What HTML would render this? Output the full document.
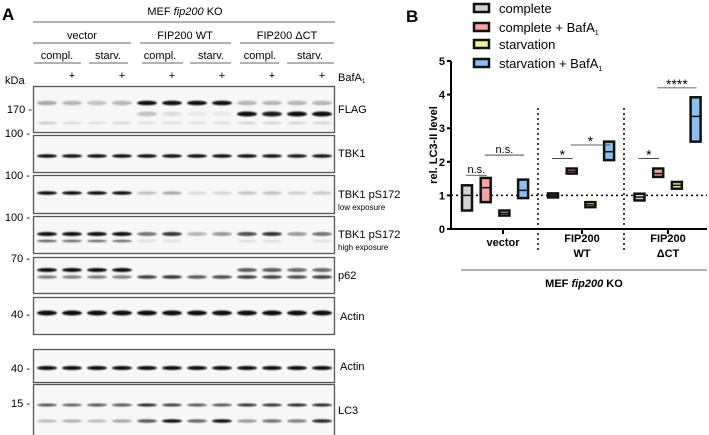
<!DOCTYPE html>
<html><head><meta charset="utf-8">
<style>
body{margin:0;background:#fff;}
svg{display:block;font-family:"Liberation Sans",Arial,sans-serif;}
</style></head>
<body>
<svg id="fig" width="709" height="435" viewBox="0 0 709 435">
<defs>
<filter id="blur" x="-20%" y="-100%" width="140%" height="300%"><feGaussianBlur stdDeviation="0.8"/></filter>
</defs>
<g id="panelA">
<text x="2" y="20" font-size="17" font-weight="bold">A</text>
<text x="185" y="15" font-size="11" text-anchor="middle">MEF <tspan font-style="italic">fip200</tspan> KO</text>
<line x1="33" y1="22" x2="335" y2="22" stroke="#333" stroke-width="0.8"/>
<text x="82" y="39" font-size="11" text-anchor="middle">vector</text>
<text x="185" y="39" font-size="11" text-anchor="middle">FIP200 WT</text>
<text x="287" y="39" font-size="11" text-anchor="middle">FIP200 ΔCT</text>
<line x1="33" y1="43" x2="131" y2="43" stroke="#333" stroke-width="0.8"/>
<line x1="140" y1="43" x2="231" y2="43" stroke="#333" stroke-width="0.8"/>
<line x1="240" y1="43" x2="334" y2="43" stroke="#333" stroke-width="0.8"/>
<g font-size="11" text-anchor="middle">
<text x="57" y="59">compl.</text><text x="108" y="59">starv.</text>
<text x="160" y="59">compl.</text><text x="211" y="59">starv.</text>
<text x="260" y="59">compl.</text><text x="310" y="59">starv.</text>
</g>
<g stroke="#333" stroke-width="0.8">
<line x1="34" y1="63" x2="81" y2="63"/><line x1="89" y1="63" x2="128" y2="63"/>
<line x1="142" y1="63" x2="183" y2="63"/><line x1="190" y1="63" x2="231" y2="63"/>
<line x1="240" y1="63" x2="279" y2="63"/><line x1="287" y1="63" x2="334" y2="63"/>
</g>
<text x="5" y="84" font-size="11">kDa</text>
<text x="338" y="81" font-size="11">BafA<tspan font-size="6" dy="2">1</tspan></text>
<g id="plus" font-size="11" text-anchor="middle"></g>
<g id="blots"></g>
<g font-size="11">
<text x="338" y="113">FLAG</text>
<text x="338" y="157">TBK1</text>
<text x="338" y="198">TBK1 pS172</text>
<text x="338" y="210" font-size="8">low exposure</text>
<text x="338" y="238">TBK1 pS172</text>
<text x="338" y="250" font-size="8">high exposure</text>
<text x="338" y="279">p62</text>
<text x="340" y="320">Actin</text>
<text x="340" y="370">Actin</text>
<text x="338" y="414">LC3</text>
</g>
<g font-size="11" text-anchor="end">
<text x="32" y="113">170 -</text>
<text x="30" y="137">100 -</text>
<text x="30" y="179">100 -</text>
<text x="30" y="221">100 -</text>
<text x="30" y="262">70 -</text>
<text x="30" y="318">40 -</text>
<text x="30" y="372">40 -</text>
<text x="30" y="407">15 -</text>
</g>
</g>
<g id="panelB">
<text x="406" y="22" font-size="17" font-weight="bold">B</text>
<text transform="translate(437,145) rotate(-90)" font-size="11" font-weight="bold" text-anchor="middle">rel. LC3-II level</text>
<g id="legend"></g>
<g id="axes"></g>
<g id="marks"></g>
</g>
</svg>
<script>
// ---- chart data ----
const groups = ["vector", "FIP200 WT", "FIP200 ΔCT"];
const series = ["complete", "complete + BafA1", "starvation", "starvation + BafA1"];
const seriesColors = ["#d4d4d4", "#f4a3a3", "#eef2a4", "#8fbdf0"];
const minVals = [[0.55,0.8,0.4,0.92],[0.94,1.65,0.65,2.05],[0.85,1.55,1.2,2.6]];
const meanVals = [[1.0,1.23,0.47,1.15],[1.0,1.72,0.72,2.3],[0.95,1.65,1.3,3.35]];
const maxVals = [[1.3,1.52,0.55,1.47],[1.06,1.8,0.8,2.6],[1.05,1.8,1.4,3.92]];
const yTicks = [0,1,2,3,4,5];
const sigLabels = ["n.s.","n.s.","*","*","*","****"];
const sigPairs = [[0,0,1],[0,1,3],[1,0,1],[1,1,3],[2,0,1],[2,1,3]];
const sigLevels = [1.6, 2.2, 2.1, 2.5, 2.1, 4.2];

const NS="http://www.w3.org/2000/svg";
function mk(tag, attrs, parent){const e=document.createElementNS(NS,tag);for(const k in attrs)e.setAttribute(k,attrs[k]);parent.appendChild(e);return e;}
const y0=229, yUnit=33.6, xAxis=451, xEnd=707;
function Y(v){return y0 - v*yUnit;}
const groupStart=[467,553,639.5], slotW=18.7;
function Xs(g,s){return groupStart[g]+s*slotW;}

const axes=document.getElementById('axes');
const ya=mk('line',{x1:xAxis,y1:Y(5),x2:xAxis,y2:Y(0)+1,stroke:'#000','stroke-width':2},axes);


const xa=mk('line',{x1:xAxis-1,y1:Y(0),x2:xEnd,y2:Y(0),stroke:'#000','stroke-width':2},axes);


yTicks.forEach(t=>{
  mk('line',{x1:xAxis-4,y1:Y(t),x2:xAxis,y2:Y(t),stroke:'#000','stroke-width':2},axes);
  const tx=mk('text',{x:xAxis-6,y:Y(t)+4,'font-size':11,'font-weight':'bold','text-anchor':'end'},axes);
  tx.textContent=t;
  
  
});
[503,582,668].forEach(x=>mk('line',{x1:x,y1:Y(0),x2:x,y2:Y(0)+5,stroke:'#000','stroke-width':2},axes));
[538,624].forEach(x=>{const l=mk('line',{x1:x,y1:Y(3.6),x2:x,y2:Y(0)+22,stroke:'#000','stroke-width':1.5,'stroke-dasharray':'2,3'},axes);
  
  });
const ref=mk('line',{x1:xAxis,y1:Y(1),x2:xEnd,y2:Y(1),stroke:'#000','stroke-width':1.5,'stroke-dasharray':'2,3'},axes);


const xl=[["vector"],["FIP200","WT"],["FIP200","ΔCT"]], xlx=[503,582,668];
xl.forEach((lines,i)=>lines.forEach((s,j)=>{
  const t=mk('text',{x:xlx[i],y:(lines.length==1?246:242+j*15),'font-size':11,'font-weight':'bold','text-anchor':'middle'},axes);
  t.textContent=s;
  
  
}));
mk('line',{x1:461,y1:270,x2:707,y2:270,stroke:'#333','stroke-width':0.8},axes);
const xt=mk('text',{x:584,y:287,'font-size':11,'font-weight':'bold','text-anchor':'middle'},axes);
xt.innerHTML='MEF <tspan font-style="italic">fip200</tspan> KO';



const marks=document.getElementById('marks');
groups.forEach((g,gi)=>series.forEach((s,si)=>{
  const cx=Xs(gi,si), w=10;
  const r=mk('rect',{x:cx-w/2,y:Y(maxVals[gi][si]),width:w,height:Math.max(2,Y(minVals[gi][si])-Y(maxVals[gi][si])),fill:seriesColors[si],stroke:'#111','stroke-width':2.5},marks);
  
  
  mk('line',{x1:cx-w/2,y1:Y(meanVals[gi][si]),x2:cx+w/2,y2:Y(meanVals[gi][si]),stroke:'#111','stroke-width':1.5},marks);
}));
sigPairs.forEach((p,i)=>{
  const x1=Xs(p[0],p[1]), x2=Xs(p[0],p[2]), y=Y(sigLevels[i]);
  const l=mk('line',{x1:x1-1,y1:y,x2:x2+1,y2:y,stroke:'#333','stroke-width':0.8},marks);
  
  
  const isNS=sigLabels[i]=='n.s.';
  const t=mk('text',{x:(x1+x2)/2,y:y+(isNS?-2:1),'font-size':isNS?11:14,'text-anchor':'middle'},marks);
  t.textContent=sigLabels[i];
  
  
});
const lg=document.getElementById('legend');
const legY=[8,27,44,63];
series.forEach((s,i)=>{
  const r=mk('rect',{x:474,y:legY[i]-4,width:15,height:8,fill:seriesColors[i],stroke:'#111','stroke-width':2.5},lg);
  
  
  const t=mk('text',{x:499,y:legY[i]+5,'font-size':13},lg);
  t.innerHTML=s.replace('BafA1','BafA<tspan font-size="7" dy="3">1</tspan>');
  
  
});

// ---- blot ----
const plusG=document.getElementById('plus');
for(let i=1;i<12;i+=2){const t=mk('text',{x:47+25*i,y:79},plusG);t.textContent='+';}
const blots=document.getElementById('blots');
const panels=[[86,132,'flag'],[135,172,'tbk1'],[175,213,'ps172-low'],[216,253,'ps172-high'],[257,293,'p62'],[297,334,'actin'],[349,382,'actin-2'],[384,436,'lc3']];
panels.forEach(p=>{const r=mk('rect',{x:33.5,y:p[0]+0.5,width:301,height:p[1]-p[0],fill:'#f7f7f7',stroke:'#555','stroke-width':1.3},blots);
 
 });
const bandRows=[
 [103,[.3,.25,.2,.25,1,1,.95,1,.25,.25,.25,.25],4.5],
 [114,[0,0,0,0,.2,.1,.05,.05,1,.9,1,1],5],
 [123,[.18,.12,.1,.14,.1,.1,.1,.1,.15,.15,.15,.15],2.5],
 [156,[1,1,1,1,.95,.95,.95,.95,.95,.92,.9,.92],3.5],
 [193,[1,1,.95,.95,.2,.3,.1,.12,.2,.2,.15,.18],3.5],
 [234,[1,1,1,1,.5,.8,.25,.35,.7,.8,.35,.5],4],
 [241,[.6,.55,.55,.55,.1,.1,0,0,.1,.1,0,.1],2.5],
 [270,[1,1,1,1,0,0,0,0,.6,.6,.55,.55],4],
 [277,[.45,.45,.45,.45,.75,.8,.65,.7,.75,.75,.7,.75],3.5],
 [313,[1,1,1,1,1,1,1,1,1,1,1,1],5],
 [368,[1,1,1,1,1,1,1,1,1,1,1,1],4],
 [405,[.6,.55,.65,.65,.85,.75,.6,.6,.8,.8,.85,.85],3],
 [421,[.2,.25,.2,.3,.65,.95,.55,1,.35,.5,.45,.85],3.5]];
bandRows.forEach(r=>r[1].forEach((v,i)=>{ if(v<=0)return;
 mk('ellipse',{cx:47+25*i,cy:r[0],rx:10,ry:r[2]/2,fill:'#0a0a0a','fill-opacity':Math.min(1,v*1.05),filter:'url(#blur)'},blots);}));
</script>
</body></html>
